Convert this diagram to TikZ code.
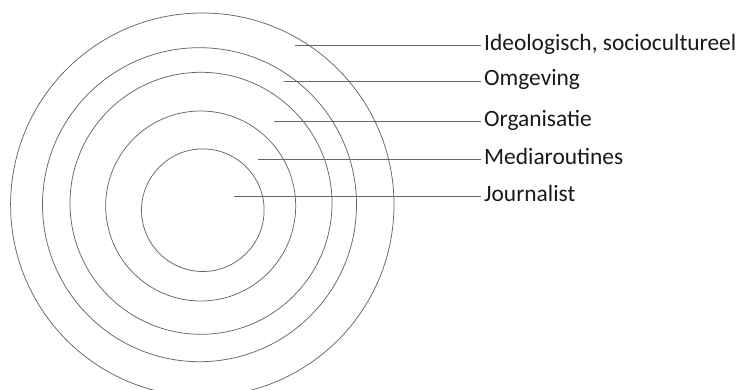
\documentclass[tikz,border=0pt]{standalone}
\usepackage{fontspec}
\setmainfont{Carlito}
\begin{document}
\begin{tikzpicture}[x=1pt,y=-1pt,
  ring/.style={draw=black!60,line width=0.75pt},
  leader/.style={draw=black!60,line width=0.75pt},
  lbl/.style={anchor=base west,inner sep=0pt,font=\fontsize{23.4}{27}\selectfont,text=black!90}]
\useasboundingbox (0,0) rectangle (740,390);
\begin{scope}
\clip (0,0) rectangle (740,390);
\draw[ring] (202.3,204.7) circle (191.7);
\draw[ring] (199.5,204.7) circle (157);
\draw[ring] (201,203.3) circle (131);
\draw[ring] (200.7,206) circle (95);
\draw[ring] (202.8,210.2) circle (61.3);
\end{scope}
\coordinate (s1) at (295.3,45.7);
\coordinate (s2) at (284.3,81);
\coordinate (s3) at (274,121.3);
\coordinate (s4) at (258.3,159.3);
\coordinate (s5) at (234,196.7);
\coordinate (e1) at (481,45.7);
\coordinate (e2) at (481,81);
\coordinate (e3) at (481,121.3);
\coordinate (e4) at (481,159.3);
\coordinate (e5) at (481,196.7);
\node[lbl] (l1) at (484,50.5) {Ideologisch, sociocultureel};
\node[lbl] (l2) at (484,85.8) {Omgeving};
\node[lbl] (l3) at (484,126.1) {Organisatie};
\node[lbl] (l4) at (484,164.1) {Mediaroutines};
\node[lbl] (l5) at (484,201.5) {Journalist};
\draw[leader] (s1) -- (e1);
\draw[leader] (s2) -- (e2);
\draw[leader] (s3) -- (e3);
\draw[leader] (s4) -- (e4);
\draw[leader] (s5) -- (e5);
\end{tikzpicture}
\end{document}
